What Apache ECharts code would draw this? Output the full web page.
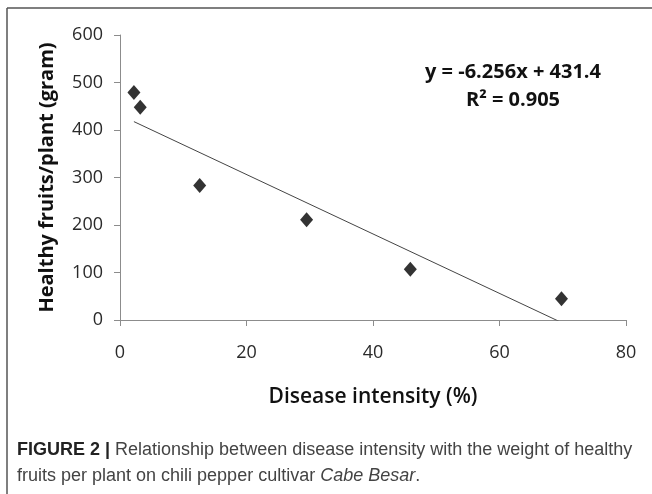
<!DOCTYPE html>
<html>
<head>
<meta charset="utf-8">
<script src="https://cdn.jsdelivr.net/npm/echarts@6/dist/echarts.min.js"></script>
<style>
  html, body { margin: 0; padding: 0; background: #fff; }
  #chart { width: 652px; height: 494px; }
</style>
</head>
<body>
<div id="chart"></div>
<script>
// Data
const intensity = [2.2, 3.2, 12.6, 29.5, 45.9, 69.8];   // Disease intensity (%)
const weight = [479, 448, 283, 211, 107, 45];          // Healthy fruits/plant (gram)
const trendSlope = -6.256;
const trendIntercept = 431.4;
const trendR2 = 0.905;
const xTicks = [0, 20, 40, 60, 80];
const yTicks = [0, 100, 200, 300, 400, 500, 600];

const points = intensity.map((x, i) => [x, weight[i]]);
const xMinData = Math.min(...intensity);
const xMaxData = Math.max(...intensity);
const trend = [xMinData, xMaxData].map(x => [x, trendSlope * x + trendIntercept]);

const chart = echarts.init(document.getElementById('chart'));
const axisGray = '#8c8c8c';
const labelFont = 'Open Sans';

chart.setOption({
  animation: false,
  grid: { left: 120, right: 26, top: 35, bottom: 174, containLabel: false },
  xAxis: {
    type: 'value', min: xTicks[0], max: xTicks[xTicks.length - 1], interval: 20,
    splitLine: { show: false },
    axisLine: { show: true, lineStyle: { color: axisGray, width: 1 } },
    axisTick: { show: true, length: 6, lineStyle: { color: axisGray } },
    axisLabel: { margin: 24, color: '#2a2a2a', fontFamily: labelFont, fontSize: 18 },
    name: 'Disease intensity (%)', nameLocation: 'middle', nameGap: 67,
    nameTextStyle: { fontFamily: labelFont, fontSize: 21, fontWeight: 600, color: '#111' }
  },
  yAxis: {
    type: 'value', min: yTicks[0], max: yTicks[yTicks.length - 1], interval: 100,
    splitLine: { show: false },
    axisLine: { show: true, lineStyle: { color: axisGray, width: 1 } },
    axisTick: { show: true, length: 6, lineStyle: { color: axisGray } },
    axisLabel: { margin: 17, color: '#2a2a2a', fontFamily: labelFont, fontSize: 18 },
    name: 'Healthy fruits/plant (gram)', nameLocation: 'middle', nameGap: 63, nameRotate: 90,
    nameTextStyle: { fontFamily: labelFont, fontSize: 20, fontWeight: 'bold', color: '#111' }
  },
  series: [
    {
      type: 'line', data: trend, showSymbol: false, symbol: 'none', clip: true,
      lineStyle: { color: '#444', width: 1 }, silent: true, z: 1
    },
    {
      type: 'scatter', data: points, symbol: 'diamond', symbolSize: [13, 15],
      itemStyle: { color: '#000' }, z: 2
    }
  ],
  graphic: [
    { type: 'line', shape: { x1: 7, y1: 8, x2: 652, y2: 8 }, style: { stroke: '#555', lineWidth: 1.5 } },
    { type: 'line', shape: { x1: 7, y1: 8, x2: 7, y2: 494 }, style: { stroke: '#555', lineWidth: 1.5 } },
    {
      type: 'text', x: 513, y: 58,
      style: {
        text: 'y = ' + trendSlope + 'x + ' + trendIntercept + '\nR² = ' + trendR2.toFixed(3),
        align: 'center', verticalAlign: 'top', fontFamily: labelFont, fontSize: 20, fontWeight: 'bold',
        fill: '#111', lineHeight: 28
      }
    },
    {
      type: 'text', left: 17, top: 437,
      style: {
        text: '{b|FIGURE 2 |} Relationship between disease intensity with the weight of healthy\nfruits per plant on chili pepper cultivar {i|Cabe Besar}.',
        fontFamily: 'Liberation Sans', fontSize: 18, fill: '#444', lineHeight: 26,
        rich: {
          b: { fontFamily: 'Liberation Sans', fontSize: 18, fontWeight: 'bold', fill: '#222', lineHeight: 26 },
          i: { fontFamily: 'Liberation Sans', fontSize: 18, fontStyle: 'italic', fill: '#444', lineHeight: 26 }
        }
      }
    }
  ]
});
</script>
</body>
</html>
